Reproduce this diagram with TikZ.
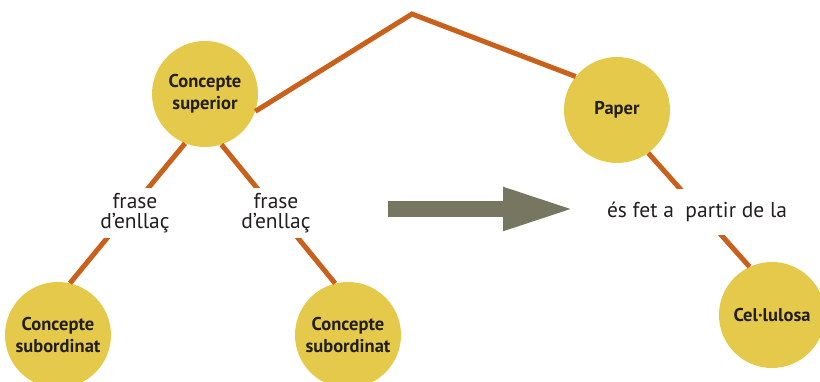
\documentclass[tikz,border=0pt]{standalone}
\usepackage{fontspec}
\setmainfont{PT Sans}
\usetikzlibrary{arrows.meta}
\definecolor{conceptfill}{HTML}{E5C94A}
\definecolor{linkline}{HTML}{C9601B}
\definecolor{arrowgray}{HTML}{777660}
\definecolor{inktext}{HTML}{231F20}
\tikzset{
  concept/.style={circle, fill=conceptfill, minimum size=106pt, inner sep=0pt,
    align=center, text=inktext, font=\fontsize{18.5}{22}\selectfont\bfseries},
  linkline/.style={draw=linkline, line width=5pt},
  phrase/.style={fill=white, align=center, text=inktext, inner sep=5pt,
    font=\fontsize{21.5}{19.5}\selectfont}
}
\begin{document}
\begin{tikzpicture}[x=1pt,y=-1pt]
  \useasboundingbox (0,0) rectangle (820,382);

  % concepts
  \node[concept] (superior) at (205,94) {Concepte\\superior};
  \node[concept] (subA) at (58,335) {Concepte\\subordinat};
  \node[concept] (subB) at (348,335) {Concepte\\subordinat};
  \node[concept] (paper) at (617,110) {Paper};
  \node[concept] (cellulosa) at (772,315) {Cel·lulosa};

  % links
  \coordinate (apex) at (412,14);
  \draw[linkline] (superior.341) -- (apex) -- (paper.141);
  \draw[linkline] (superior.248) -- (subA.77);
  \draw[linkline] (superior.288) -- (subB.104);
  \draw[linkline] (paper.306) -- (cellulosa.115);

  % linking phrases
  \node[phrase] (fraseA) at (135,213) {frase\\d’enllaç};
  \node[phrase] (fraseB) at (276,213) {frase\\d’enllaç};
  \node[phrase, inner ysep=13pt] (fet) at (697,212) {és fet a\ \ partir de la};

  % big arrow
  \coordinate (arrS) at (388,209);
  \coordinate (arrE) at (576,209);
  \draw[arrowgray, line width=16pt,
    -{Triangle[length=73pt, width=39pt]}] (arrS) -- (arrE);
\end{tikzpicture}
\end{document}
